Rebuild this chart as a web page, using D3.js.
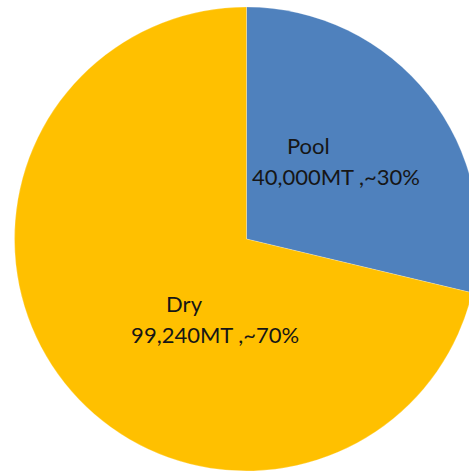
<!DOCTYPE html>
<html>
  <head>
    <meta charset="utf-8">
    <title>Pool vs Dry</title>
    <style>
      body { margin: 0; background: #fff; }
      text { font-family: Lato, "Open Sans", sans-serif; font-size: 22px; fill: #161616; }
    </style>
    <script src="https://cdn.jsdelivr.net/npm/d3@7"></script>
  </head>
  <body>
    <script type="text/javascript">
      var width = 469, height = 472;

      // data
      var categories = ["Pool", "Dry"];
      var values = [40000, 99240];
      var valueLabels = ["40,000MT ,~30%", "99,240MT ,~70%"];
      var colors = ["#4F81BD", "#FFC000"];

      var cx = 246.5, cy = 239, radius = 232;

      var svg = d3.select("body")
        .append("svg")
        .attr("width", width)
        .attr("height", height);

      var g = svg.append("g")
        .attr("transform", "translate(" + cx + "," + cy + ")");

      var pie = d3.pie().sort(null).value(function(d) { return d; });
      var arcs = pie(values);

      var arc = d3.arc().innerRadius(0).outerRadius(radius);

      g.selectAll("path")
        .data(arcs)
        .enter()
        .append("path")
          .attr("d", arc)
          .style("fill", function(d, i) { return colors[i]; })
          .style("stroke", "#fff")
          .style("stroke-width", 0.4)
          .style("stroke-opacity", 0.6);

      // label anchors: excel puts them roughly inside each slice
      var labelAngle = [0.86, 3.51];   // radians from 12 o'clock
      var labelDist = [118, 87];

      arcs.forEach(function(d, i) {
        var a = labelAngle[i], r = labelDist[i];
        var lx = r * Math.sin(a), ly = -r * Math.cos(a);
        var lab = g.append("g").attr("transform", "translate(" + lx + "," + ly + ")");
        var second = lab.append("text")
          .attr("y", 23)
          .attr("text-anchor", "middle")
          .text(valueLabels[i]);
        var w = second.node().getComputedTextLength();
        lab.append("text")
          .attr("x", -w / 2 + 35)
          .attr("y", -8)
          .text(categories[i]);
      });
    </script>
  </body>
</html>
